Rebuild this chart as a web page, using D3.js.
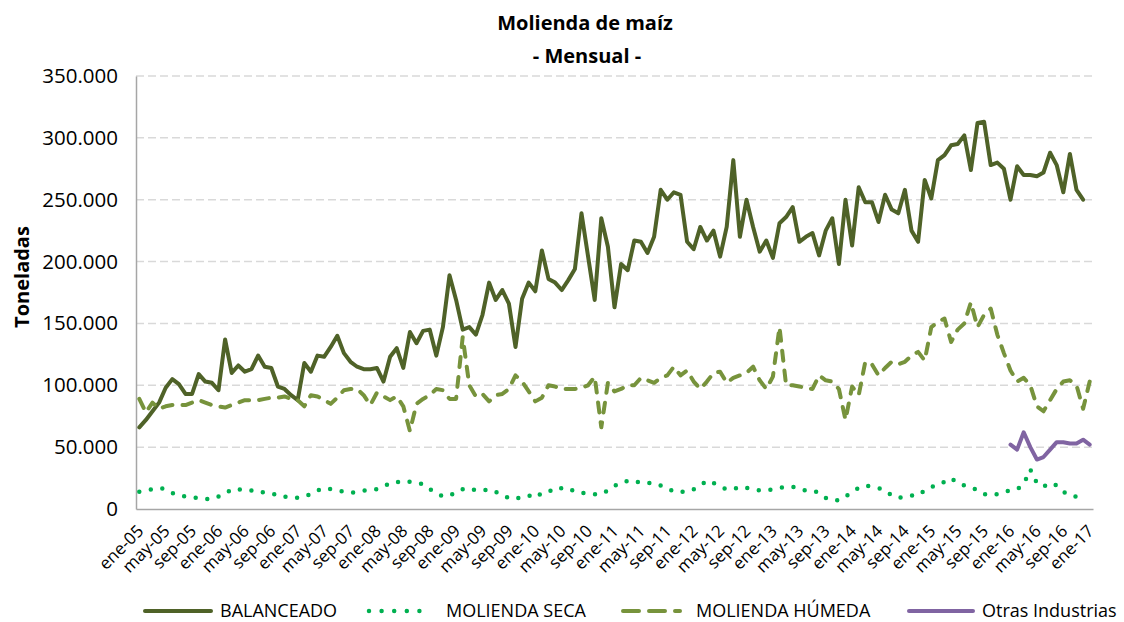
<!DOCTYPE html>
<html>
<head>
<meta charset="utf-8">
<script src="https://cdn.jsdelivr.net/npm/d3@7"></script>
<style>
  body { margin: 0; background: #fff; }
  text { font-family: "Open Sans", Lato, sans-serif; fill: #000; }
</style>
</head>
<body>
<div id="chart"></div>
<script>
// valores en miles de toneladas, ene-05 en adelante
const monthNames = ['ene','feb','mar','abr','may','jun','jul','ago','sep','oct','nov','dic'];

const balanceado = [
  66,72,79,86,98,105,101,93,93,109,103,102,
  96,137,110,116,111,113,124,115,114,99,97,92,
  88,118,111,124,123,131,140,126,119,115,113,113,
  114,103,123,130,114,143,134,144,145,124,147,189,
  169,145,147,141,157,183,169,177,166,131,170,183,
  176,209,186,183,177,185,194,239,204,169,235,212,
  163,198,193,217,216,207,220,258,250,256,254,216,
  210,228,217,225,204,228,282,220,250,228,208,217,
  203,231,236,244,216,220,223,205,225,235,198,250,
  213,260,248,248,232,254,242,239,258,225,216,266,
  251,282,286,294,295,302,274,312,313,278,280,275,
  250,277,270,270,269,272,288,278,256,287,258,250
];

const moliendaSeca = [
  14,15,16,17,16,13,11,10,9,9,8,8,
  10,12,16,16,15,15,15,13,12,12,10,9,
  9,10,12,15,17,16,15,14,13,14,15,15,
  16,18,21,22,21,22,21,20,16,13,10,11,
  13,16,17,15,15,16,14,11,9,8,10,11,
  9,13,15,14,17,17,14,13,13,12,12,15,
  19,20,23,23,21,21,21,19,17,14,14,14,
  16,19,23,21,18,16,16,18,17,16,15,15,
  16,17,18,18,16,15,15,13,9,7,7,10,
  14,17,19,18,17,15,11,9,10,11,11,15,
  18,19,22,25,21,19,18,15,12,11,12,14,
  15,16,20,32,21,18,21,19,14,11,10,10
];

const moliendaHumeda = [
  89,78,86,81,83,84,84,84,86,88,86,84,
  83,82,84,86,88,88,88,89,90,90,91,89,
  88,83,92,91,88,85,90,96,97,97,92,84,
  94,91,88,91,83,63,85,89,92,97,96,89,
  89,139,100,91,93,87,92,93,97,108,103,95,
  87,90,100,99,97,97,97,98,100,107,66,102,
  95,97,100,100,106,104,102,106,108,115,108,112,
  103,97,103,110,111,102,106,108,110,115,104,97,
  107,147,100,100,99,98,97,108,104,103,97,72,
  99,92,119,117,108,114,119,117,119,124,127,120,
  147,151,154,135,145,150,167,147,157,162,141,126,
  112,103,106,100,83,79,88,97,103,104,100,81,
  103
];

// Otras Industrias empieza en ene-16
const otrasStart = 132;
const otrasIndustrias = [52,48,62,50,40,42,48,54,54,53,53,56,52];

const yTicks = [0,50000,100000,150000,200000,250000,300000,350000];

// categorias ene-05 .. ene-17
const categories = [];
for (let y = 5; y <= 17; y++) {
  for (let m = 0; m < 12; m++) {
    if (y === 17 && m > 0) break;
    categories.push(monthNames[m] + '-' + String(y).padStart(2, '0'));
  }
}

const series = [
  { name: 'BALANCEADO', values: balanceado, start: 0, color: '#4f6228', dash: null },
  { name: 'MOLIENDA SECA', values: moliendaSeca, start: 0, color: '#00b050', dash: '0 11.7' },
  { name: 'MOLIENDA HÚMEDA', values: moliendaHumeda, start: 0, color: '#77933c', dash: '10 10' },
  { name: 'Otras Industrias', values: otrasIndustrias, start: otrasStart, color: '#8064a2', dash: null }
];

const width = 1124, height = 622;
const margin = { top: 76, right: 31, bottom: 113, left: 136 };

const svg = d3.select('#chart').append('svg')
  .attr('width', width)
  .attr('height', height);

const x = d3.scaleBand()
  .domain(categories)
  .range([margin.left, width - margin.right])
  .padding(0);

const y = d3.scaleLinear()
  .domain([0, 350000])
  .range([height - margin.bottom, margin.top]);

const fmt = d3.formatLocale({ decimal: ',', thousands: '.', grouping: [3], currency: ['$', ''] }).format(',');

// grid
svg.append('g')
  .selectAll('line')
  .data(yTicks.filter(d => d > 0))
  .join('line')
  .attr('x1', margin.left)
  .attr('x2', width - margin.right)
  .attr('y1', d => y(d))
  .attr('y2', d => y(d))
  .attr('stroke', '#d9d9d9')
  .attr('stroke-width', 1.5)
  .attr('stroke-dasharray', '8 4');

// y axis
const yAxis = svg.append('g')
  .attr('transform', `translate(${margin.left},0)`)
  .call(d3.axisLeft(y).tickValues(yTicks).tickFormat(fmt).tickSize(0).tickPadding(18));
yAxis.select('.domain').attr('stroke', '#a6a6a6').attr('stroke-width', 1.5);
yAxis.selectAll('text').style('font-size', '20.5px').attr('font-family', null);

// x axis
const xTicks = categories.filter((d, i) => i % 4 === 0);
const xAxis = svg.append('g')
  .attr('transform', `translate(0,${height - margin.bottom})`)
  .call(d3.axisBottom(x).tickValues(xTicks).tickSize(0).tickFormat(''));
xAxis.select('.domain').attr('stroke', '#a6a6a6').attr('stroke-width', 1.5);

svg.append('g')
  .selectAll('text')
  .data(xTicks)
  .join('text')
  .attr('transform', d => `translate(${x(d) + x.bandwidth() / 2 + 1},${height - margin.bottom + 19}) rotate(-45)`)
  .attr('text-anchor', 'end')
  .attr('dy', '0.35em')
  .style('font-size', '17px')
  .text(d => d);

// lines
const line = d3.line()
  .defined(d => d != null)
  .x((d, i) => x(categories[i]) + x.bandwidth() / 2)
  .y(d => y(d * 1000));

for (const s of series) {
  const full = categories.map((c, i) => {
    const j = i - s.start;
    return (j >= 0 && j < s.values.length) ? s.values[j] : null;
  });
  svg.append('path')
    .datum(full)
    .attr('fill', 'none')
    .attr('stroke', s.color)
    .attr('stroke-width', s.name === 'MOLIENDA SECA' ? 4.5 : 4)
    .attr('stroke-linecap', 'round')
    .attr('stroke-linejoin', 'round')
    .attr('stroke-dasharray', s.dash)
    .attr('d', line);
}

// titles
svg.append('text')
  .attr('x', 585).attr('y', 30)
  .attr('text-anchor', 'middle')
  .style('font-size', '20px').style('font-weight', 'bold')
  .text('Molienda de maíz');
svg.append('text')
  .attr('x', 587).attr('y', 63)
  .attr('text-anchor', 'middle')
  .style('font-size', '20px').style('font-weight', 'bold')
  .text('- Mensual -');

svg.append('text')
  .attr('transform', 'translate(29,277) rotate(-90)')
  .attr('text-anchor', 'middle')
  .style('font-size', '20px').style('font-weight', 'bold')
  .text('Toneladas');

// legend
const legendItems = [
  { s: series[0], x0: 145, x1: 211, tx: 220 },
  { s: series[1], x0: 369, x1: 432, tx: 446 },
  { s: series[2], x0: 623, x1: 680, tx: 696 },
  { s: series[3], x0: 909, x1: 973, tx: 982 }
];
const ly = 611;
const legend = svg.append('g');
for (const it of legendItems) {
  legend.append('line')
    .attr('x1', it.x0).attr('x2', it.x1)
    .attr('y1', ly).attr('y2', ly)
    .attr('stroke', it.s.color)
    .attr('stroke-width', it.s.name === 'MOLIENDA SECA' ? 4.5 : 4)
    .attr('stroke-linecap', 'round')
    .attr('stroke-dasharray', it.s.name === 'MOLIENDA SECA' ? '0 12.6' : it.s.dash ? '16 10' : null);
  legend.append('text')
    .attr('x', it.tx).attr('y', ly)
    .attr('dy', '0.35em')
    .style('font-size', '18px')
    .text(it.s.name);
}
</script>
</body>
</html>
